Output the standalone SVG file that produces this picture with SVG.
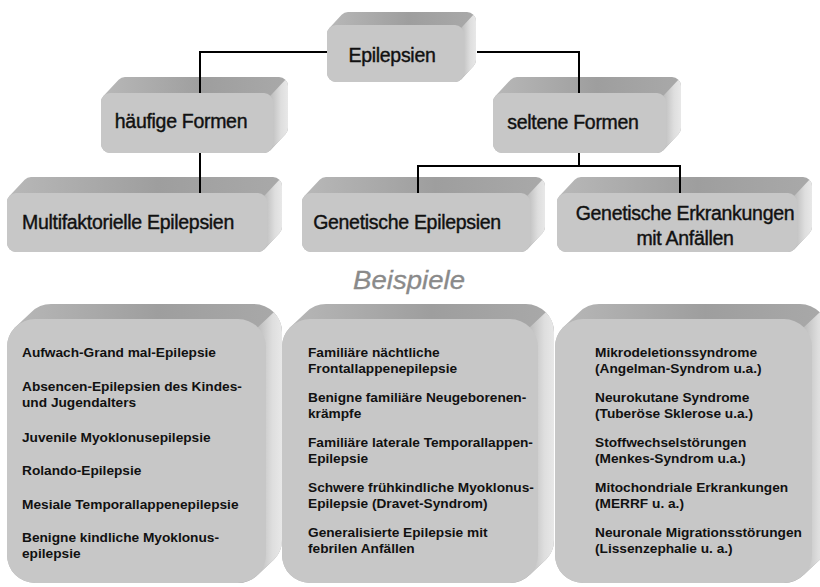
<svg xmlns="http://www.w3.org/2000/svg" width="820" height="587" viewBox="0 0 820 587">
<defs>
<linearGradient id="gTop" x1="0" y1="0" x2="1" y2="0">
<stop offset="0" stop-color="#b8b8b8"/>
<stop offset="0.55" stop-color="#9e9e9e"/>
<stop offset="1" stop-color="#a9a9a9"/>
</linearGradient>
<linearGradient id="gSide" x1="0" y1="0" x2="1" y2="0">
<stop offset="0" stop-color="#bcbcbc"/>
<stop offset="0.6" stop-color="#dedede"/>
<stop offset="1" stop-color="#e8e8e8"/>
</linearGradient>
<style>
.top{fill:url(#gTop)}
.side{fill:url(#gSide)}
.front{fill:#c7c7c7}
.t{font-family:"Liberation Sans",Arial,sans-serif;font-size:19.5px;fill:#111;stroke:#111;stroke-width:0.4;letter-spacing:-0.3px;text-anchor:middle}
.b{font-family:"Liberation Sans",Arial,sans-serif;font-size:13.7px;font-weight:bold;fill:#111}
.ex{font-family:"Liberation Sans",Arial,sans-serif;font-size:25px;font-style:italic;fill:#8a8a8a;stroke:#8a8a8a;stroke-width:0.3;text-anchor:middle}
.c{fill:none;stroke:#000;stroke-width:2}
</style>
</defs>
<rect width="820" height="587" fill="#fff"/>

<g id="n-epilepsien" transform="translate(327,25)">
<path class="top" d="M 0 48 L 0 9 A 9 9 0 0 1 2.64 2.64 L 14.64 -10.36 A 9 9 0 0 1 21 -13 L 140 -13 A 9 9 0 0 1 149 -4 L 149 35 A 9 9 0 0 1 146.36 41.36 L 134.36 54.36 A 9 9 0 0 1 128 57 L 9 57 A 9 9 0 0 1 0 48 Z"/>
<path class="side" d="M 134.36 2.64 L 146.36 -10.36 A 9 9 0 0 1 149 -4 L 149 35 A 9 9 0 0 1 146.36 41.36 L 134.36 54.36 Z"/>
<rect class="front" x="0" y="0" width="137" height="57" rx="9"/>
</g>
<text class="t" x="392" y="62">Epilepsien</text>

<g id="n-haeufig" transform="translate(101,93)">
<path class="top" d="M 0 51 L 0 9 A 9 9 0 0 1 2.64 2.64 L 17.64 -13.36 A 9 9 0 0 1 24 -16 L 178 -16 A 9 9 0 0 1 187 -7 L 187 35 A 9 9 0 0 1 184.36 41.36 L 169.36 57.36 A 9 9 0 0 1 163 60 L 9 60 A 9 9 0 0 1 0 51 Z"/>
<path class="side" d="M 169.36 2.64 L 184.36 -13.36 A 9 9 0 0 1 187 -7 L 187 35 A 9 9 0 0 1 184.36 41.36 L 169.36 57.36 Z"/>
<rect class="front" x="0" y="0" width="172" height="60" rx="9"/>
</g>
<text class="t" x="181" y="128">häufige Formen</text>

<g id="n-selten" transform="translate(493,93)">
<path class="top" d="M 0 51 L 0 9 A 9 9 0 0 1 2.64 2.64 L 17.64 -13.36 A 9 9 0 0 1 24 -16 L 179 -16 A 9 9 0 0 1 188 -7 L 188 35 A 9 9 0 0 1 185.36 41.36 L 170.36 57.36 A 9 9 0 0 1 164 60 L 9 60 A 9 9 0 0 1 0 51 Z"/>
<path class="side" d="M 170.36 2.64 L 185.36 -13.36 A 9 9 0 0 1 188 -7 L 188 35 A 9 9 0 0 1 185.36 41.36 L 170.36 57.36 Z"/>
<rect class="front" x="0" y="0" width="173" height="60" rx="9"/>
</g>
<text class="t" x="573" y="129">seltene Formen</text>

<g id="n-multi" transform="translate(7,193)">
<path class="top" d="M 0 50 L 0 9 A 9 9 0 0 1 2.64 2.64 L 17.64 -13.36 A 9 9 0 0 1 24 -16 L 266 -16 A 9 9 0 0 1 275 -7 L 275 34 A 9 9 0 0 1 272.36 40.36 L 257.36 56.36 A 9 9 0 0 1 251 59 L 9 59 A 9 9 0 0 1 0 50 Z"/>
<path class="side" d="M 257.36 2.64 L 272.36 -13.36 A 9 9 0 0 1 275 -7 L 275 34 A 9 9 0 0 1 272.36 40.36 L 257.36 56.36 Z"/>
<rect class="front" x="0" y="0" width="260" height="59" rx="9"/>
</g>
<text class="t" x="128" y="229">Multifaktorielle Epilepsien</text>

<g id="n-genepi" transform="translate(302,193)">
<path class="top" d="M 0 50 L 0 9 A 9 9 0 0 1 2.64 2.64 L 17.64 -13.36 A 9 9 0 0 1 24 -16 L 234 -16 A 9 9 0 0 1 243 -7 L 243 34 A 9 9 0 0 1 240.36 40.36 L 225.36 56.36 A 9 9 0 0 1 219 59 L 9 59 A 9 9 0 0 1 0 50 Z"/>
<path class="side" d="M 225.36 2.64 L 240.36 -13.36 A 9 9 0 0 1 243 -7 L 243 34 A 9 9 0 0 1 240.36 40.36 L 225.36 56.36 Z"/>
<rect class="front" x="0" y="0" width="228" height="59" rx="9"/>
</g>
<text class="t" x="407" y="229">Genetische Epilepsien</text>

<g id="n-generk" transform="translate(557,193)">
<path class="top" d="M 0 50 L 0 9 A 9 9 0 0 1 2.64 2.64 L 17.64 -13.36 A 9 9 0 0 1 24 -16 L 246 -16 A 9 9 0 0 1 255 -7 L 255 34 A 9 9 0 0 1 252.36 40.36 L 237.36 56.36 A 9 9 0 0 1 231 59 L 9 59 A 9 9 0 0 1 0 50 Z"/>
<path class="side" d="M 237.36 2.64 L 252.36 -13.36 A 9 9 0 0 1 255 -7 L 255 34 A 9 9 0 0 1 252.36 40.36 L 237.36 56.36 Z"/>
<rect class="front" x="0" y="0" width="240" height="59" rx="9"/>
</g>
<text class="t" x="685" y="220">Genetische Erkrankungen</text>
<text class="t" x="685" y="245">mit Anfällen</text>

<text class="ex" x="409" y="289" textLength="112" lengthAdjust="spacingAndGlyphs">Beispiele</text>

<g id="n-bsp1">
<g transform="translate(7,319)">
<path class="top" d="M 0 236 L 0 28 A 28 28 0 0 1 8.2 8.2 L 24.2 -6.8 A 28 28 0 0 1 44 -15 L 247 -15 A 28 28 0 0 1 275 13 L 275 221 A 28 28 0 0 1 266.8 240.8 L 250.8 255.8 A 28 28 0 0 1 231 264 L 28 264 A 28 28 0 0 1 0 236 Z"/>
<path class="side" d="M 250.8 8.2 L 266.8 -6.8 A 28 28 0 0 1 275 13 L 275 221 A 28 28 0 0 1 266.8 240.8 L 250.8 255.8 Z"/>
<rect class="front" x="0" y="0" width="259" height="264" rx="28"/>
</g>
<text class="b" x="22" y="357">Aufwach-Grand mal-Epilepsie</text>
<text class="b" x="22" y="391">Absencen-Epilepsien des Kindes-</text>
<text class="b" x="22" y="406.5">und Jugendalters</text>
<text class="b" x="22" y="441.5">Juvenile Myoklonusepilepsie</text>
<text class="b" x="22" y="475">Rolando-Epilepsie</text>
<text class="b" x="22" y="508.5">Mesiale Temporallappenepilepsie</text>
<text class="b" x="22" y="542">Benigne kindliche Myoklonus-</text>
<text class="b" x="22" y="557.5">epilepsie</text>
</g>

<g id="n-bsp2">
<g transform="translate(282,319)">
<path class="top" d="M 0 236 L 0 28 A 28 28 0 0 1 8.2 8.2 L 24.2 -6.8 A 28 28 0 0 1 44 -15 L 244 -15 A 28 28 0 0 1 272 13 L 272 221 A 28 28 0 0 1 263.8 240.8 L 247.8 255.8 A 28 28 0 0 1 228 264 L 28 264 A 28 28 0 0 1 0 236 Z"/>
<path class="side" d="M 247.8 8.2 L 263.8 -6.8 A 28 28 0 0 1 272 13 L 272 221 A 28 28 0 0 1 263.8 240.8 L 247.8 255.8 Z"/>
<rect class="front" x="0" y="0" width="256" height="264" rx="28"/>
</g>
<text class="b" x="308" y="357">Familiäre nächtliche</text>
<text class="b" x="308" y="372.5">Frontallappenepilepsie</text>
<text class="b" x="308" y="402">Benigne familiäre Neugeborenen-</text>
<text class="b" x="308" y="417.5">krämpfe</text>
<text class="b" x="308" y="447">Familiäre laterale Temporallappen-</text>
<text class="b" x="308" y="462.5">Epilepsie</text>
<text class="b" x="308" y="492">Schwere frühkindliche Myoklonus-</text>
<text class="b" x="308" y="507.5">Epilepsie (Dravet-Syndrom)</text>
<text class="b" x="308" y="537">Generalisierte Epilepsie mit</text>
<text class="b" x="308" y="552.5">febrilen Anfällen</text>
</g>

<g id="n-bsp3">
<g transform="translate(555,319)">
<path class="top" d="M 0 236 L 0 28 A 28 28 0 0 1 8.2 8.2 L 24.2 -6.8 A 28 28 0 0 1 44 -15 L 245 -15 A 28 28 0 0 1 273 13 L 273 221 A 28 28 0 0 1 264.8 240.8 L 248.8 255.8 A 28 28 0 0 1 229 264 L 28 264 A 28 28 0 0 1 0 236 Z"/>
<path class="side" d="M 248.8 8.2 L 264.8 -6.8 A 28 28 0 0 1 273 13 L 273 221 A 28 28 0 0 1 264.8 240.8 L 248.8 255.8 Z"/>
<rect class="front" x="0" y="0" width="257" height="264" rx="28"/>
</g>
<text class="b" x="595" y="357">Mikrodeletionssyndrome</text>
<text class="b" x="595" y="372.5">(Angelman-Syndrom u.a.)</text>
<text class="b" x="595" y="402">Neurokutane Syndrome</text>
<text class="b" x="595" y="417.5">(Tuberöse Sklerose u.a.)</text>
<text class="b" x="595" y="447">Stoffwechselstörungen</text>
<text class="b" x="595" y="462.5">(Menkes-Syndrom u.a.)</text>
<text class="b" x="595" y="492">Mitochondriale Erkrankungen</text>
<text class="b" x="595" y="507.5">(MERRF u. a.)</text>
<text class="b" x="595" y="537">Neuronale Migrationsstörungen</text>
<text class="b" x="595" y="552.5">(Lissenzephalie u. a.)</text>
</g>

<g id="connectors">
<path class="c" d="M 327 52 H 200 V 93"/>
<path class="c" d="M 477 52 H 579 V 93"/>
<path class="c" d="M 200 153 V 193"/>
<path class="c" d="M 579 153 V 166"/>
<path class="c" d="M 418 193 V 166 H 680 V 193"/>
</g>
</svg>
